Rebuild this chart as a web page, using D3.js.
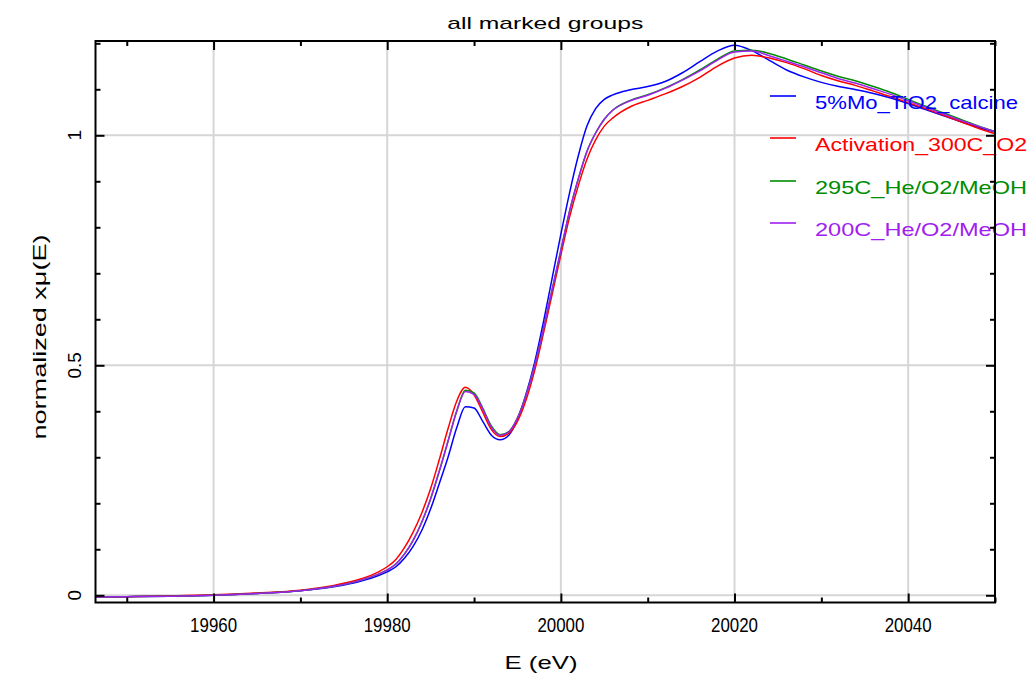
<!DOCTYPE html>
<html>
<head>
<meta charset="utf-8">
<script src="https://cdn.jsdelivr.net/npm/d3@7"></script>
<style>
  html, body { margin: 0; padding: 0; background: #ffffff; }
  svg { display: block; }
  text { font-family: "Liberation Sans", "DejaVu Sans", sans-serif; fill: #000; }
</style>
</head>
<body>
<svg id="chart" width="1029" height="674"></svg>
<script>
// Mo K-edge XANES, normalized absorption for four marked groups
const energy = [19946.4, 19950, 19955, 19960, 19965, 19970, 19974, 19977, 19979, 19980,
  19981, 19982, 19983, 19984, 19985, 19986, 19987, 19988, 19989, 19990,
  19991, 19992, 19993, 19994, 19995, 19996, 19997, 19998, 19999, 20000,
  20001, 20002, 20003, 20004, 20005, 20006, 20008, 20010, 20012, 20014,
  20016, 20018, 20020, 20022, 20024, 20026, 20028, 20030, 20032, 20034,
  20036, 20038, 20040, 20042, 20044, 20046, 20048, 20050];

const moCalcine = [-0.004, -0.003, -0.002, 0.000, 0.004, 0.010, 0.019, 0.031, 0.043, 0.051,
  0.062, 0.081, 0.107, 0.142, 0.188, 0.243, 0.300, 0.364, 0.410, 0.407,
  0.378, 0.348, 0.338, 0.348, 0.382, 0.438, 0.508, 0.595, 0.690, 0.785,
  0.875, 0.955, 1.020, 1.058, 1.078, 1.088, 1.099, 1.106, 1.117, 1.136,
  1.160, 1.183, 1.196, 1.184, 1.163, 1.142, 1.127, 1.115, 1.106, 1.099,
  1.091, 1.081, 1.069, 1.056, 1.043, 1.030, 1.018, 1.007];

const activation300 = [-0.004, -0.003, -0.001, 0.001, 0.005, 0.011, 0.022, 0.036, 0.051, 0.062,
  0.078, 0.104, 0.138, 0.180, 0.232, 0.295, 0.362, 0.422, 0.452, 0.436,
  0.398, 0.360, 0.345, 0.352, 0.378, 0.425, 0.490, 0.570, 0.655, 0.740,
  0.822, 0.890, 0.948, 0.990, 1.020, 1.038, 1.062, 1.076, 1.090, 1.106,
  1.126, 1.150, 1.168, 1.174, 1.168, 1.158, 1.145, 1.130, 1.118, 1.108,
  1.096, 1.084, 1.071, 1.058, 1.044, 1.030, 1.016, 1.003];

const he295 = [-0.004, -0.003, -0.002, 0.000, 0.004, 0.010, 0.020, 0.033, 0.046, 0.055,
  0.068, 0.090, 0.120, 0.160, 0.210, 0.270, 0.335, 0.400, 0.446, 0.440,
  0.407, 0.368, 0.349, 0.356, 0.386, 0.436, 0.500, 0.580, 0.665, 0.750,
  0.835, 0.905, 0.965, 1.005, 1.035, 1.055, 1.076, 1.088, 1.103, 1.121,
  1.142, 1.165, 1.183, 1.185, 1.178, 1.166, 1.153, 1.140, 1.128, 1.118,
  1.106, 1.093, 1.078, 1.063, 1.049, 1.035, 1.021, 1.008];

const he200 = [-0.004, -0.003, -0.002, 0.000, 0.004, 0.010, 0.020, 0.033, 0.046, 0.055,
  0.068, 0.090, 0.120, 0.160, 0.210, 0.270, 0.335, 0.400, 0.443, 0.437,
  0.405, 0.365, 0.348, 0.355, 0.385, 0.435, 0.500, 0.580, 0.665, 0.750,
  0.835, 0.905, 0.965, 1.005, 1.035, 1.055, 1.075, 1.087, 1.102, 1.120,
  1.140, 1.163, 1.181, 1.183, 1.173, 1.161, 1.149, 1.136, 1.123, 1.113,
  1.101, 1.089, 1.075, 1.061, 1.047, 1.033, 1.020, 1.008];

const seriesNames = ["5%Mo_TiO2_calcine", "Activation_300C_O2", "295C_He/O2/MeOH", "200C_He/O2/MeOH"];
const seriesValues = [moCalcine, activation300, he295, he200];
const seriesColors = ["#0000ff", "#ff0000", "#008c00", "#a020f0"];
const legendTextWidths = [203, 212, 212, 212];

const xMajorTicks = [19960, 19980, 20000, 20020, 20040];
const xTickLabels = ["19960", "19980", "20000", "20020", "20040"];
const xMinorTicks = [19950, 19970, 19990, 20010, 20030, 20050];
const yMajorTicks = [0, 0.5, 1];
const yTickLabels = ["0", "0.5", "1"];
const yMinorTicks = [0.1, 0.2, 0.3, 0.4, 0.6, 0.7, 0.8, 0.9, 1.1, 1.2];

const titleText = "all marked groups";
const xTitle = "E (eV)";
const yTitle = "normalized xμ(E)";

// plot frame
const plotLeft = 95.5, plotRight = 995, plotTop = 41, plotBottom = 602.5;

const svg = d3.select("#chart");
const x = d3.scaleLinear().domain([19946.4, 20050]).range([plotLeft, plotRight]);
const y = d3.scaleLinear().domain([-0.0157, 1.205]).range([plotBottom, plotTop]);

// grid lines at major ticks
const grid = svg.append("g").attr("stroke", "#d6d6d6").attr("stroke-width", 2);
grid.selectAll("line.gx").data(xMajorTicks).join("line").attr("class", "gx")
  .attr("x1", d => x(d)).attr("x2", d => x(d)).attr("y1", plotTop).attr("y2", plotBottom);
grid.selectAll("line.gy").data(yMajorTicks).join("line").attr("class", "gy")
  .attr("x1", plotLeft).attr("x2", plotRight).attr("y1", d => y(d)).attr("y2", d => y(d));

// curves
svg.append("clipPath").attr("id", "plotClip").append("rect")
  .attr("x", plotLeft).attr("y", plotTop)
  .attr("width", plotRight - plotLeft).attr("height", plotBottom - plotTop);

const line = d3.line().x(d => x(d[0])).y(d => y(d[1])).curve(d3.curveMonotoneX);
const curves = svg.append("g").attr("clip-path", "url(#plotClip)");
seriesValues.forEach((vals, i) => {
  curves.append("path")
    .datum(energy.map((e, k) => [e, vals[k]]))
    .attr("fill", "none")
    .attr("stroke", seriesColors[i])
    .attr("stroke-width", 1.5)
    .attr("d", line);
});

// legend
const legend = svg.append("g");
const legendRows = [99, 141, 184, 226];
seriesNames.forEach((name, i) => {
  legend.append("line")
    .attr("x1", 770).attr("x2", 796)
    .attr("y1", legendRows[i] - 3).attr("y2", legendRows[i] - 3)
    .attr("stroke", seriesColors[i]).attr("stroke-width", 1.6);
  legend.append("text")
    .attr("x", 815).attr("y", legendRows[i] + 3)
    .attr("dominant-baseline", "central")
    .attr("font-size", 19)
    .attr("textLength", legendTextWidths[i])
    .attr("lengthAdjust", "spacingAndGlyphs")
    .style("fill", seriesColors[i])
    .text(name);
});

// ticks on all four sides, pointing inward
function styleAxis(g) {
  g.select(".domain").remove();
  g.selectAll(".tick line").attr("stroke", "#000").attr("stroke-width", 2);
  g.selectAll(".tick text").remove();
}
const majorLen = 9, minorLen = 5;
svg.append("g").attr("transform", `translate(0,${plotBottom})`)
  .call(d3.axisBottom(x).tickValues(xMajorTicks).tickSize(-majorLen).tickFormat(""))
  .call(styleAxis);
svg.append("g").attr("transform", `translate(0,${plotBottom})`)
  .call(d3.axisBottom(x).tickValues(xMinorTicks).tickSize(-minorLen).tickFormat(""))
  .call(styleAxis);
svg.append("g").attr("transform", `translate(0,${plotTop})`)
  .call(d3.axisTop(x).tickValues(xMajorTicks).tickSize(-majorLen).tickFormat(""))
  .call(styleAxis);
svg.append("g").attr("transform", `translate(0,${plotTop})`)
  .call(d3.axisTop(x).tickValues(xMinorTicks).tickSize(-minorLen).tickFormat(""))
  .call(styleAxis);
svg.append("g").attr("transform", `translate(${plotLeft},0)`)
  .call(d3.axisLeft(y).tickValues(yMajorTicks).tickSize(-majorLen).tickFormat(""))
  .call(styleAxis);
svg.append("g").attr("transform", `translate(${plotLeft},0)`)
  .call(d3.axisLeft(y).tickValues(yMinorTicks).tickSize(-minorLen).tickFormat(""))
  .call(styleAxis);
svg.append("g").attr("transform", `translate(${plotRight},0)`)
  .call(d3.axisRight(y).tickValues(yMajorTicks).tickSize(-majorLen).tickFormat(""))
  .call(styleAxis);
svg.append("g").attr("transform", `translate(${plotRight},0)`)
  .call(d3.axisRight(y).tickValues(yMinorTicks).tickSize(-minorLen).tickFormat(""))
  .call(styleAxis);

// frame
svg.append("rect")
  .attr("x", plotLeft).attr("y", plotTop)
  .attr("width", plotRight - plotLeft).attr("height", plotBottom - plotTop)
  .attr("fill", "none").attr("stroke", "#000").attr("stroke-width", 2);

// tick labels
svg.append("g").selectAll("text").data(xMajorTicks).join("text")
  .attr("x", d => x(d)).attr("y", 625)
  .attr("text-anchor", "middle").attr("dominant-baseline", "central")
  .attr("font-size", 20)
  .attr("textLength", 47).attr("lengthAdjust", "spacingAndGlyphs")
  .text((d, i) => xTickLabels[i]);

svg.append("g").selectAll("text").data(yMajorTicks).join("text")
  .attr("transform", d => `translate(74,${y(d)}) rotate(-90)`)
  .attr("text-anchor", "middle").attr("dominant-baseline", "central")
  .attr("font-size", 19)
  .text((d, i) => yTickLabels[i]);

// titles
svg.append("text")
  .attr("x", (plotLeft + plotRight) / 2).attr("y", 23)
  .attr("text-anchor", "middle").attr("dominant-baseline", "central")
  .attr("font-size", 17)
  .attr("textLength", 196).attr("lengthAdjust", "spacingAndGlyphs")
  .text(titleText);

svg.append("text")
  .attr("x", 541).attr("y", 662)
  .attr("text-anchor", "middle").attr("dominant-baseline", "central")
  .attr("font-size", 19)
  .attr("textLength", 73).attr("lengthAdjust", "spacingAndGlyphs")
  .text(xTitle);

svg.append("text")
  .attr("transform", "translate(40,337) rotate(-90)")
  .attr("text-anchor", "middle").attr("dominant-baseline", "central")
  .attr("font-size", 18)
  .attr("textLength", 205).attr("lengthAdjust", "spacingAndGlyphs")
  .text(yTitle);
</script>
</body>
</html>
